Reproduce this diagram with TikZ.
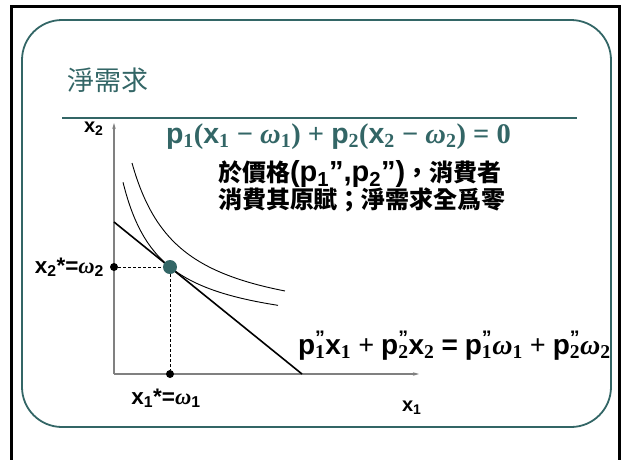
\documentclass[tikz,border=0pt]{standalone}
\usepackage{fontspec}
\usetikzlibrary{arrows.meta}
\setmainfont{Liberation Sans}
\newfontfamily\tms{Liberation Serif}
\newfontfamily\cjk{Noto Sans CJK TC}
\definecolor{teal1}{RGB}{51,102,102}
\newcommand\om{{\tms\bfseries\itshape ω}}
\newcommand\ts[1]{{\tms\bfseries\textsubscript{#1}}}
\newcommand\tx[1]{{\tms\bfseries #1}}
\newcommand\pq[1]{p\rlap{\textsuperscript{"}}{\tms\bfseries\textsubscript{#1}}}
\newcommand\gapsp{\hspace{0.25em}}
\tikzset{
  txt/.style={inner sep=0pt, outer sep=0pt},
  axisline/.style={draw=gray, line width=1.1pt, -{Stealth[length=6pt,width=3.5pt]}},
  budget/.style={draw=black, line width=1.6pt},
  icurve/.style={draw=black, line width=0.9pt},
  guide/.style={draw=black, line width=0.9pt, dash pattern=on 3pt off 2pt},
  blackdot/.style={circle, fill=black, inner sep=0pt, minimum size=8pt},
  enddot/.style={circle, fill=teal1, inner sep=0pt, minimum size=14pt},
}
\begin{document}
\begin{tikzpicture}[x=1pt,y=-1pt]
\useasboundingbox (0,0) rectangle (625,459);
\clip (0,0) rectangle (625,459);
% frames
\draw[line width=3pt] (11.5,480) -- (11.5,6) -- (619,6) -- (619,480);
\draw[teal1, line width=1.8pt, rounded corners=40pt] (22,20) rectangle (611,427);
% title
\node[txt, anchor=west, text=teal1] (title) at (67,80) {\cjk\fontsize{27}{30}\selectfont 淨需求};
\coordinate (rl) at (62,118);
\coordinate (rr) at (577,118);
\draw[teal1, line width=2.6pt] (rl) -- (rr);
% axes
\coordinate (O) at (114,374);
\coordinate (ytip) at (114,123);
\coordinate (xtip) at (419,374);
\draw[axisline] (O) -- (ytip);
\draw[axisline] (O) -- (xtip);
\node[txt, anchor=base west] (x2lab) at (84,132) {\fontsize{20}{24}\selectfont\bfseries x\textsubscript{2}};
\node[txt, anchor=base west] (x1lab) at (402,411) {\fontsize{20}{24}\selectfont\bfseries x\textsubscript{1}};
% indifference curves
\draw[icurve] plot[domain=123:278, samples=60, smooth] (\x, {335.5-5823/(\x-85)});
\draw[icurve] plot[domain=132:285, samples=60, smooth] (\x, {330.3-7863/(\x-85)});
% budget line
\coordinate (b1) at (114,222);
\coordinate (b2) at (302,374);
\draw[budget] (b1) -- (b2);
% endowment
\node[blackdot] (d2) at (114,267) {};
\node[blackdot] (d1) at (170,374) {};
\node[enddot] (E) at (170,267) {};
\draw[guide] (d2) -- (E);
\draw[guide] (E) -- (d1);
\node[txt, anchor=base east] (l2) at (104,273) {\fontsize{22.5}{26}\selectfont\bfseries x\textsubscript{2}*=\om\textsubscript{2}};
\node[txt, anchor=base] (l1) at (166,404) {\fontsize{22.5}{26}\selectfont\bfseries x\textsubscript{1}*=\om\textsubscript{1}};
% equations
\node[txt, anchor=base west, text=teal1] (eq1) at (166,143) {\fontsize{28.5}{32}\selectfont\bfseries p\ts{1}\tx{(}x\ts{1}\gapsp\tx{−}\gapsp\om\ts{1}\tx{)}\gapsp\tx{+}\gapsp p\ts{2}\tx{(}x\ts{2}\gapsp\tx{−}\gapsp\om\ts{2}\tx{)}\gapsp\tx{=}\gapsp\tx{0}};
\node[txt, anchor=base west] (eq2) at (298,354) {\fontsize{28}{32}\selectfont\bfseries \pq{1}x\ts{1}\gapsp\tx{+}\gapsp\pq{2}x\ts{2}\gapsp=\gapsp\pq{1}\om\ts{1}\gapsp\tx{+}\gapsp\pq{2}\om\ts{2}};
% text
\node[txt, anchor=base west] (t1) at (218,181) {\bfseries{\cjk\fontsize{24}{28}\selectfont 於價格}{\fontsize{29}{32}\selectfont(p\textsubscript{1}”,p\textsubscript{2}”)}{\cjk\fontsize{24}{28}\selectfont ，消費者}};
\node[txt, anchor=base west] (t2) at (218,208) {\bfseries\cjk\fontsize{24}{28}\selectfont 消費其原賦；淨需求全爲零};
\end{tikzpicture}
\end{document}
